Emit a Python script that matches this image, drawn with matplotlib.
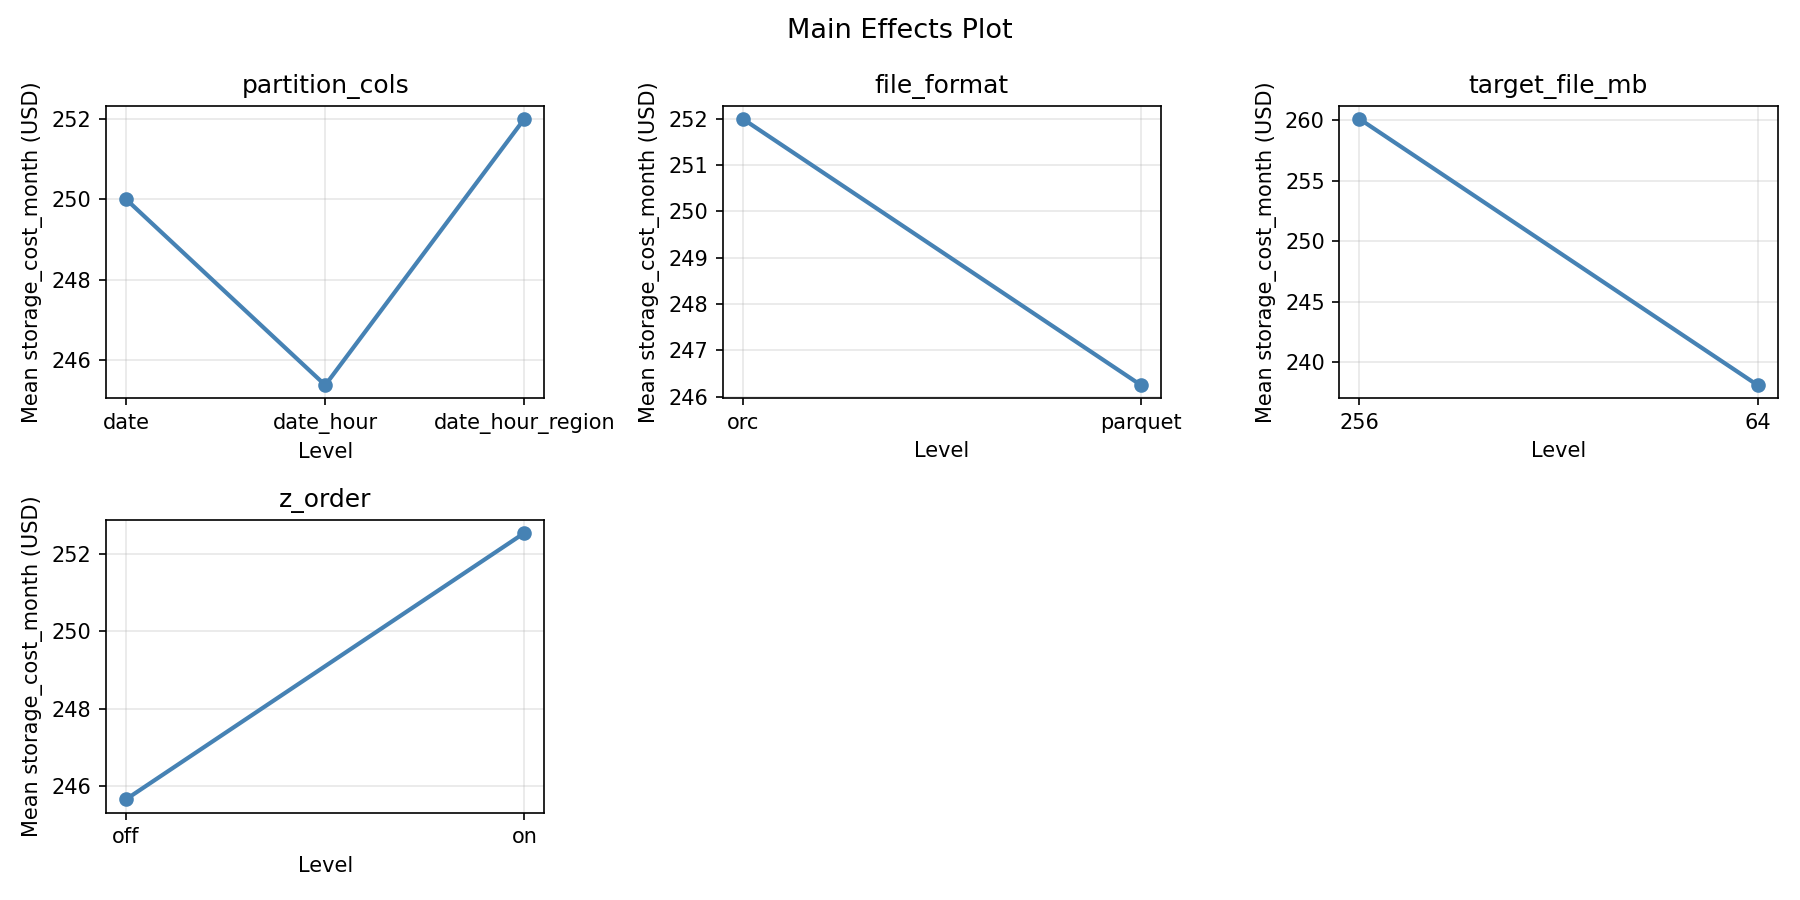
import matplotlib
matplotlib.use("Agg")
import matplotlib.pyplot as plt

# mean storage cost per factor level
partition_levels = ["date", "date_hour", "date_hour_region"]
partition_means = [250.0, 245.38, 252.0]

format_levels = ["orc", "parquet"]
format_means = [252.0, 246.25]

target_levels = ["256", "64"]
target_means = [260.1, 238.1]

zorder_levels = ["off", "on"]
zorder_means = [245.65, 252.55]

factors = [
    ("partition_cols", partition_levels, partition_means),
    ("file_format", format_levels, format_means),
    ("target_file_mb", target_levels, target_means),
    ("z_order", zorder_levels, zorder_means),
]

fig, axes = plt.subplots(2, 3, figsize=(12, 6))
axes = axes.flatten()

for ax, (name, levels, means) in zip(axes, factors):
    ax.plot(levels, means, marker="o", color="steelblue", linewidth=2)
    ax.set_title(name)
    ax.set_xlabel("Level")
    ax.set_ylabel("Mean storage_cost_month (USD)")
    ax.grid(True, alpha=0.3)

# hide unused panels
for ax in axes[len(factors):]:
    ax.axis("off")

fig.suptitle("Main Effects Plot", fontsize=13)
plt.tight_layout()
plt.savefig("out.png", dpi=150)
plt.close()
